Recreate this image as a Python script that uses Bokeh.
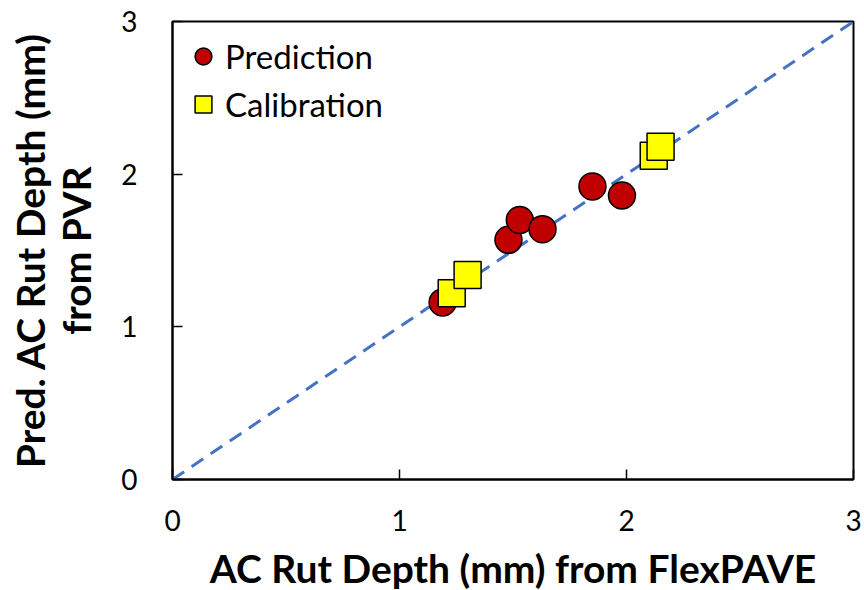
from bokeh.plotting import figure
from bokeh.models import Range1d, FixedTicker, Legend, LegendItem
from bokeh.embed import file_html
from bokeh.resources import INLINE

# Data
pred_x = [1.19, 1.48, 1.53, 1.63, 1.85, 1.98]
pred_y = [1.16, 1.57, 1.70, 1.64, 1.92, 1.86]
calib_x = [1.23, 1.30, 2.12, 2.15]
calib_y = [1.22, 1.34, 2.12, 2.18]
line_x = [0, 3]
line_y = [0, 3]
ticks = [0, 1, 2, 3]

FONT = "Lato"

p = figure(width=864, height=590, frame_width=681, frame_height=458,
           x_range=Range1d(0, 3), y_range=Range1d(0, 3),
           output_backend="svg", toolbar_location=None,
           min_border_left=172, min_border_top=21, min_border_right=11,
           min_border_bottom=111)
p.background_fill_color = "white"
p.border_fill_color = "white"
p.outline_line_color = "black"
p.outline_line_width = 2
p.grid.visible = False

p.line(line_x, line_y, line_color="#4472C4", line_width=3, line_dash="14 9")

r1 = p.scatter(pred_x, pred_y, marker="circle", size=27, fill_color="#C00000",
               line_color="black", line_width=1.5)
r2 = p.scatter(calib_x, calib_y, marker="square", size=27, fill_color="#FFFF00",
               line_color="black", line_width=1.5)

for ax in (p.xaxis[0], p.yaxis[0]):
    ax.ticker = FixedTicker(ticks=ticks)
    ax.minor_tick_line_color = None
    ax.major_tick_in = 10
    ax.major_tick_out = 0
    ax.major_tick_line_color = "black"
    ax.major_tick_line_width = 1.5
    ax.axis_line_color = "black"
    ax.axis_line_width = 2
    ax.major_label_text_font = FONT
    ax.major_label_text_font_size = "28px"
    ax.major_label_text_color = "black"
    ax.axis_label_text_font = FONT
    ax.axis_label_text_font_style = "bold"
    ax.axis_label_text_font_size = "39px"
    ax.axis_label_text_color = "black"

p.xaxis.axis_label = "AC Rut Depth (mm) from FlexPAVE"
p.xaxis.major_label_standoff = 30
p.xaxis.axis_label_standoff = 11

p.yaxis.axis_label = "Pred. AC Rut Depth (mm)\nfrom PVR"
p.yaxis.axis_label_text_line_height = 1.0
p.yaxis.major_label_standoff = 35
p.yaxis.axis_label_standoff = 19

legend = Legend(items=[LegendItem(label="Prediction", renderers=[r1]),
                       LegendItem(label="Calibration", renderers=[r2])],
                location=(10, 354))
legend.border_line_color = None
legend.background_fill_alpha = 0
legend.label_text_font = FONT
legend.label_text_font_size = "33px"
legend.label_text_color = "black"
legend.glyph_width = 42
legend.glyph_height = 42
legend.label_height = 42
legend.spacing = 6
legend.label_standoff = 1
legend.margin = 0
legend.padding = 0
p.add_layout(legend)

open("out.html", "w").write(file_html(p, INLINE))
